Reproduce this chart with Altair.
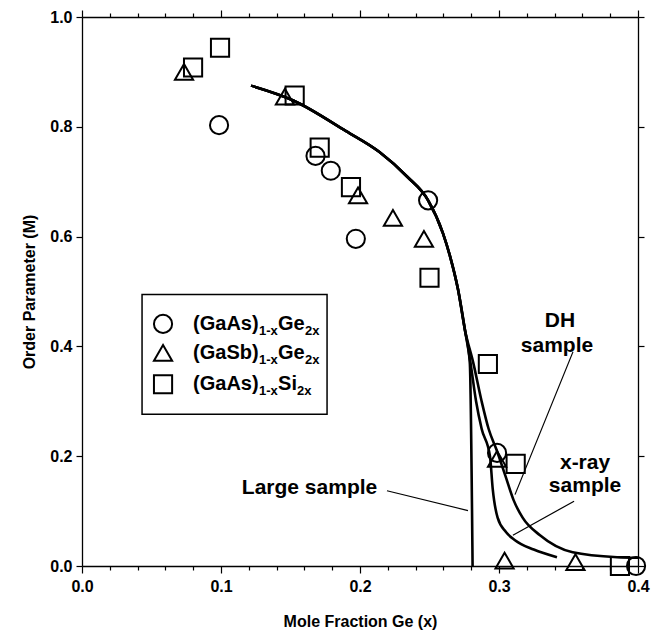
import altair as alt
import pandas as pd

# ---------------- data ----------------
series_names = ["(GaAs)1-xGe2x", "(GaSb)1-xGe2x", "(GaAs)1-xSi2x"]
series_shapes = ["circle", "triangle-up", "square"]

gaas_ge_x = [0.0986, 0.168, 0.179, 0.197, 0.249, 0.2986, 0.3986]
gaas_ge_y = [0.803, 0.747, 0.720, 0.596, 0.666, 0.206, 0.0]

gasb_ge_x = [0.0734, 0.146, 0.1986, 0.2237, 0.246, 0.2986, 0.304, 0.355]
gasb_ge_y = [0.900, 0.855, 0.675, 0.634, 0.596, 0.195, 0.010, 0.007]

gaas_si_x = [0.0799, 0.0993, 0.153, 0.171, 0.1935, 0.250, 0.292, 0.312, 0.387]
gaas_si_y = [0.908, 0.944, 0.857, 0.762, 0.690, 0.525, 0.368, 0.186, 0.0]

# model curves
dh_x = [0.1216, 0.152, 0.190, 0.214, 0.234, 0.249, 0.2597, 0.2647, 0.2705, 0.2755,
        0.2815, 0.2875, 0.2925, 0.2985, 0.3045, 0.3105, 0.317, 0.3295, 0.353, 0.385, 0.400]
dh_y = [0.875, 0.848, 0.792, 0.754, 0.709, 0.666, 0.606, 0.565, 0.504, 0.430,
        0.370, 0.300, 0.250, 0.210, 0.165, 0.120, 0.088, 0.056, 0.025, 0.016, 0.015]

xray_x = [0.1216, 0.152, 0.190, 0.214, 0.234, 0.249, 0.2597, 0.2647, 0.2705, 0.2755,
          0.2795, 0.2835, 0.2875, 0.2935, 0.2955, 0.299, 0.305, 0.3115, 0.325, 0.3417]
xray_y = [0.875, 0.848, 0.792, 0.754, 0.709, 0.666, 0.606, 0.565, 0.504, 0.430,
          0.370, 0.300, 0.250, 0.200, 0.140, 0.088, 0.062, 0.047, 0.030, 0.016]

large_x = [0.1216, 0.152, 0.190, 0.214, 0.234, 0.249, 0.2597, 0.2647, 0.2705, 0.2755,
           0.279, 0.281]
large_y = [0.875, 0.848, 0.792, 0.754, 0.709, 0.666, 0.606, 0.565, 0.504, 0.430,
           0.370, 0.0]

# annotation pointers (start, end)
ptr_names = ["large", "dh", "xray"]
ptr_x0 = [0.2194, 0.3532, 0.354]
ptr_y0 = [0.137, 0.390, 0.118]
ptr_x1 = [0.2777, 0.3115, 0.310]
ptr_y1 = [0.101, 0.130, 0.056]

# annotation texts
ann_text = ["Large sample", "DH", "sample", "x-ray", "sample"]
ann_x = [0.1637, 0.3439, 0.3417, 0.3619, 0.3619]
ann_y = [0.1426, 0.4458, 0.4007, 0.1877, 0.1462]

# legend (drawn with marks so the formulas get real subscripts)
legend_row_y = [0.441, 0.388, 0.331]
legend_sym_x = [0.0583, 0.0583, 0.0583]
legend_txt_x = [0.0799, 0.0799, 0.0799]
legend_main = ["(GaAs)", "(GaSb)", "(GaAs)"]
legend_sub1 = ["1-x", "1-x", "1-x"]
legend_elem = ["Ge", "Ge", "Si"]
legend_sub2 = ["2x", "2x", "2x"]
legend_box_x = [0.0432, 0.1763]
legend_box_y = [0.2762, 0.4946]

x_tick_values = [0.0, 0.02, 0.04, 0.06, 0.08, 0.1, 0.12, 0.14, 0.16, 0.18, 0.2,
                 0.22, 0.24, 0.26, 0.28, 0.3, 0.32, 0.34, 0.36, 0.38, 0.4]
y_tick_values = [0.0, 0.2, 0.4, 0.6, 0.8, 1.0]

# ---------------- tables ----------------
pts = pd.concat([
    pd.DataFrame({"x": gaas_ge_x, "y": gaas_ge_y, "series": series_names[0]}),
    pd.DataFrame({"x": gasb_ge_x, "y": gasb_ge_y, "series": series_names[1]}),
    pd.DataFrame({"x": gaas_si_x, "y": gaas_si_y, "series": series_names[2]}),
], ignore_index=True)

curves = pd.concat([
    pd.DataFrame({"x": dh_x, "y": dh_y, "curve": "dh", "i": range(len(dh_x))}),
    pd.DataFrame({"x": xray_x, "y": xray_y, "curve": "xray", "i": range(len(xray_x))}),
    pd.DataFrame({"x": large_x, "y": large_y, "curve": "large", "i": range(len(large_x))}),
], ignore_index=True)

ptr_rows = []
for n, a, b, c, d in zip(ptr_names, ptr_x0, ptr_y0, ptr_x1, ptr_y1):
    ptr_rows.append({"name": n, "x": a, "y": b, "i": 0})
    ptr_rows.append({"name": n, "x": c, "y": d, "i": 1})
ptrs = pd.DataFrame(ptr_rows)

ann = pd.DataFrame({"t": ann_text, "x": ann_x, "y": ann_y})

leg = pd.DataFrame({
    "series": series_names, "sx": legend_sym_x, "tx": legend_txt_x, "y": legend_row_y,
    "main": legend_main, "sub1": legend_sub1, "elem": legend_elem, "sub2": legend_sub2,
})
box = pd.DataFrame({"x": [legend_box_x[0]], "x2": [legend_box_x[1]],
                    "y": [legend_box_y[0]], "y2": [legend_box_y[1]]})

FONT = "Liberation Sans"
major_test = "abs(datum.value * 10 - round(datum.value * 10)) < 0.001"

xscale = alt.Scale(domain=[0, 0.4], nice=False, zero=False)
yscale = alt.Scale(domain=[0, 1.0], nice=False, zero=False)
shape_scale = alt.Scale(domain=series_names, range=series_shapes)

axis_common = dict(domainColor="black", domainWidth=1.3, tickColor="black", tickWidth=1.2,
                   labelFont=FONT, labelFontSize=16, labelFontWeight="bold", labelColor="black",
                   titleFont=FONT, titleFontSize=16, titleFontWeight="bold", titleColor="black",
                   grid=False)

x_bottom = alt.Axis(orient="bottom", values=x_tick_values,
                    labelExpr=f"{major_test} ? format(datum.value, '.1f') : ''",
                    tickSize={"condition": {"test": major_test, "value": 7}, "value": 4},
                    labelOverlap=False, labelFlush=False, labelPadding=5,
                    title="Mole Fraction Ge (x)", titlePadding=19, **axis_common)
x_top = alt.Axis(orient="top", values=x_tick_values, labels=False, title=None,
                 tickSize={"condition": {"test": major_test, "value": 7}, "value": 4},
                 **axis_common)
y_left = alt.Axis(orient="left", values=y_tick_values, format=".1f", tickSize=6,
                  labelPadding=4, labelFlush=False, title="Order Parameter (M)",
                  titlePadding=12, **axis_common)
y_right = alt.Axis(orient="right", values=y_tick_values, labels=False, tickSize=6, title=None,
                   **axis_common)

points = alt.Chart(pts).mark_point(filled=False, strokeWidth=2, size=330, color="black",
                                   opacity=1).encode(
    x=alt.X("x:Q", scale=xscale, axis=x_bottom),
    y=alt.Y("y:Q", scale=yscale, axis=y_left),
    shape=alt.Shape("series:N", scale=shape_scale, legend=None),
)

lines = alt.Chart(curves).mark_line(color="black", strokeWidth=2.6, interpolate="monotone").encode(
    x=alt.X("x:Q", scale=xscale, axis=x_top),
    y=alt.Y("y:Q", scale=yscale, axis=y_right),
    detail="curve:N",
    order="i:Q",
)

pointers = alt.Chart(ptrs).mark_line(color="black", strokeWidth=1.2).encode(
    x=alt.X("x:Q", scale=xscale, axis=None),
    y=alt.Y("y:Q", scale=yscale, axis=None),
    detail="name:N",
    order="i:Q",
)

texts = alt.Chart(ann).mark_text(font=FONT, fontSize=21, fontWeight="bold", color="black",
                                 align="center", baseline="middle").encode(
    x=alt.X("x:Q", scale=xscale, axis=None),
    y=alt.Y("y:Q", scale=yscale, axis=None),
    text="t:N",
)

# legend pieces
legend_box = alt.Chart(box).mark_rect(fillOpacity=0, stroke="black", strokeWidth=1.5).encode(
    x=alt.X("x:Q", scale=xscale, axis=None), x2="x2:Q",
    y=alt.Y("y:Q", scale=yscale, axis=None), y2="y2:Q",
)
legend_syms = alt.Chart(leg).mark_point(filled=False, strokeWidth=2, size=330, color="black",
                                        opacity=1).encode(
    x=alt.X("sx:Q", scale=xscale, axis=None),
    y=alt.Y("y:Q", scale=yscale, axis=None),
    shape=alt.Shape("series:N", scale=shape_scale, legend=None),
)


def leg_text(field, size, dx, dy, filt=None):
    c = alt.Chart(leg)
    if filt is not None:
        c = c.transform_filter(filt)
    return c.mark_text(font=FONT, fontSize=size, fontWeight="bold", color="black",
                       align="left", baseline="middle", dx=dx, dy=dy).encode(
        x=alt.X("tx:Q", scale=xscale, axis=None),
        y=alt.Y("y:Q", scale=yscale, axis=None),
        text=f"{field}:N",
    )


legend_layers = [
    legend_box, legend_syms,
    leg_text("main", 20, 0, 0),
    leg_text("sub1", 13, 66, 7),
    leg_text("elem", 20, 85, 0),
    leg_text("sub2", 13, 112, 7, "datum.elem == 'Ge'"),
    leg_text("sub2", 13, 104, 7, "datum.elem == 'Si'"),
]

chart = alt.layer(lines, pointers, points, texts, *legend_layers).resolve_axis(
    x="independent", y="independent"
).properties(
    width=556, height=549,
    autosize=alt.AutoSizeParams(type="none"),
    padding={"left": 74, "top": 9, "right": 20, "bottom": 66},
).configure_view(stroke=None)

chart.save("out.html", embed_options={"renderer": "svg", "actions": False})
